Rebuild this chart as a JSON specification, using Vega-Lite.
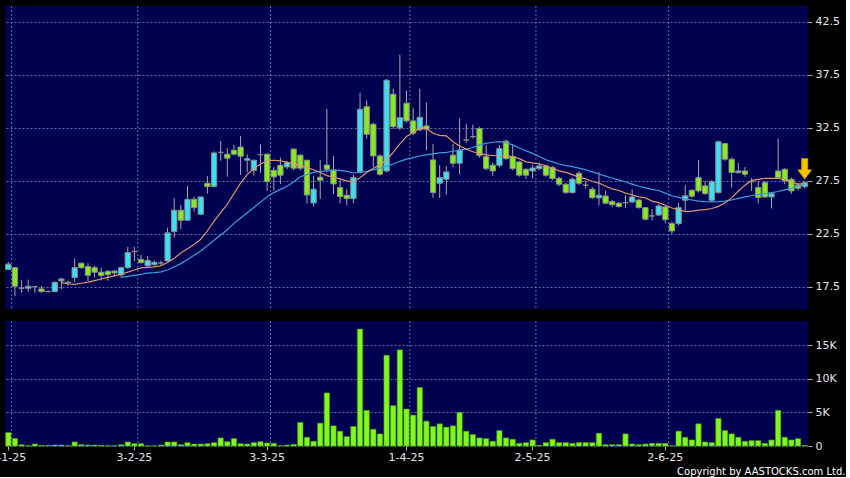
{
  "$schema": "https://vega.github.io/schema/vega-lite/v6.json",
  "background": "#000000",
  "padding": {"left": -11, "top": 5, "right": 0, "bottom": 0},
  "config": {
    "view": {"fill": "#000050", "stroke": null},
    "font": "DejaVu Sans",
    "axis": {"labelFont": "DejaVu Sans", "labelFontSize": 11, "labelColor": "#e6e6e6", "gridColor": "#6a6aa0", "gridDash": [2, 2], "gridWidth": 1, "domain": false, "tickColor": "#b0b0b0", "tickSize": 4, "title": null},
    "concat": {"spacing": 10}
  },
  "title": {"text": "Copyright by AASTOCKS.com Ltd.", "orient": "bottom", "anchor": "end", "frame": "bounds", "fontSize": 10, "fontWeight": "normal", "color": "#ffffff", "font": "DejaVu Sans", "offset": 5, "dx": 6},
  "data": {"values": [
    {"d":"2025-01-02","o":19.15,"h":19.85,"l":19.1,"c":19.65,"v":2000},
    {"d":"2025-01-03","o":19.32,"h":19.4,"l":16.65,"c":17.57,"v":1100},
    {"d":"2025-01-06","o":17.38,"h":18.13,"l":16.96,"c":17.38,"v":200},
    {"d":"2025-01-07","o":17.38,"h":18.19,"l":17.06,"c":17.57,"v":50},
    {"d":"2025-01-08","o":17.53,"h":17.6,"l":16.96,"c":17.53,"v":300},
    {"d":"2025-01-09","o":17.31,"h":17.6,"l":16.96,"c":17.06,"v":100},
    {"d":"2025-01-10","o":17.06,"h":17.15,"l":17.0,"c":17.06,"v":100},
    {"d":"2025-01-13","o":17.06,"h":18.0,"l":17.0,"c":17.94,"v":150},
    {"d":"2025-01-14","o":18.07,"h":18.38,"l":17.28,"c":18.25,"v":150,"m1":17.9},
    {"d":"2025-01-15","o":17.94,"h":18.07,"l":17.6,"c":17.94,"v":50,"m1":17.8},
    {"d":"2025-01-16","o":18.38,"h":20.2,"l":17.97,"c":19.32,"v":600,"m1":17.75},
    {"d":"2025-01-17","o":19.74,"h":19.8,"l":19.2,"c":19.32,"v":200,"m1":17.85},
    {"d":"2025-01-20","o":19.42,"h":19.74,"l":18.07,"c":18.6,"v":150,"m1":17.95},
    {"d":"2025-01-21","o":19.32,"h":19.5,"l":18.4,"c":18.89,"v":150,"m1":18.1},
    {"d":"2025-01-22","o":18.89,"h":19.3,"l":18.1,"c":18.57,"v":100,"m1":18.25},
    {"d":"2025-01-23","o":18.98,"h":19.1,"l":18.1,"c":18.66,"v":50,"m1":18.4},
    {"d":"2025-01-24","o":19.0,"h":19.1,"l":18.5,"c":18.82,"v":50,"m1":18.55},
    {"d":"2025-01-27","o":18.63,"h":19.4,"l":18.4,"c":19.32,"v":200,"m1":18.7,"m2":18.4},
    {"d":"2025-01-28","o":19.32,"h":21.27,"l":19.2,"c":20.74,"v":600,"m1":18.9,"m2":18.5},
    {"d":"2025-02-03","o":20.83,"h":21.27,"l":19.95,"c":20.83,"v":350,"m1":19.1,"m2":18.6},
    {"d":"2025-02-04","o":20.1,"h":20.5,"l":19.7,"c":19.79,"v":350,"m1":19.3,"m2":18.7},
    {"d":"2025-02-05","o":19.5,"h":20.42,"l":19.4,"c":20.0,"v":30,"m1":19.35,"m2":18.8},
    {"d":"2025-02-06","o":19.6,"h":20.0,"l":19.5,"c":19.83,"v":30,"m1":19.4,"m2":18.85},
    {"d":"2025-02-07","o":19.76,"h":20.0,"l":19.5,"c":19.76,"v":150,"m1":19.5,"m2":18.92},
    {"d":"2025-02-10","o":19.95,"h":23.1,"l":19.9,"c":22.6,"v":600,"m1":19.8,"m2":19.1},
    {"d":"2025-02-11","o":22.72,"h":25.87,"l":22.15,"c":24.74,"v":600,"m1":20.2,"m2":19.4},
    {"d":"2025-02-12","o":24.74,"h":25.24,"l":22.94,"c":23.79,"v":200,"m1":20.7,"m2":19.7},
    {"d":"2025-02-13","o":23.79,"h":27.03,"l":23.7,"c":25.77,"v":500,"m1":21.1,"m2":20.1},
    {"d":"2025-02-14","o":25.77,"h":26.0,"l":24.6,"c":24.98,"v":300,"m1":21.5,"m2":20.5},
    {"d":"2025-02-17","o":24.36,"h":26.0,"l":24.3,"c":25.99,"v":300,"m1":22.0,"m2":20.9},
    {"d":"2025-02-18","o":27.28,"h":27.97,"l":26.3,"c":26.96,"v":350,"m1":22.8,"m2":21.4},
    {"d":"2025-02-19","o":26.99,"h":30.3,"l":26.9,"c":30.14,"v":500,"m1":23.7,"m2":21.9},
    {"d":"2025-02-20","o":30.2,"h":31.27,"l":29.4,"c":30.2,"v":1200,"m1":24.5,"m2":22.4},
    {"d":"2025-02-21","o":30.02,"h":30.6,"l":27.9,"c":29.64,"v":650,"m1":25.3,"m2":22.9},
    {"d":"2025-02-24","o":30.4,"h":30.9,"l":29.9,"c":30.02,"v":1100,"m1":26.3,"m2":23.5},
    {"d":"2025-02-25","o":30.7,"h":31.75,"l":28.07,"c":29.83,"v":350,"m1":27.3,"m2":24.0},
    {"d":"2025-02-26","o":29.45,"h":30.0,"l":28.3,"c":29.6,"v":300,"m1":28.1,"m2":24.5},
    {"d":"2025-02-27","o":28.5,"h":29.5,"l":28.0,"c":29.45,"v":500,"m1":28.7,"m2":25.0},
    {"d":"2025-02-28","o":29.98,"h":30.94,"l":28.26,"c":29.98,"v":650,"m1":29.1,"m2":25.5},
    {"d":"2025-03-03","o":30.02,"h":30.1,"l":26.56,"c":27.43,"v":450,"m1":29.4,"m2":26.0},
    {"d":"2025-03-04","o":28.5,"h":28.8,"l":26.6,"c":27.88,"v":400,"m1":29.45,"m2":26.4},
    {"d":"2025-03-05","o":28.98,"h":29.7,"l":27.2,"c":28.04,"v":30,"m1":29.4,"m2":26.7},
    {"d":"2025-03-06","o":28.82,"h":29.4,"l":28.6,"c":29.23,"v":150,"m1":29.25,"m2":27.0},
    {"d":"2025-03-07","o":30.5,"h":30.6,"l":28.5,"c":28.7,"v":250,"m1":29.1,"m2":27.4},
    {"d":"2025-03-10","o":29.93,"h":30.0,"l":28.5,"c":28.7,"v":3500,"m1":28.95,"m2":27.9},
    {"d":"2025-03-11","o":29.45,"h":29.5,"l":25.36,"c":26.18,"v":1300,"m1":28.75,"m2":28.1},
    {"d":"2025-03-12","o":25.42,"h":28.0,"l":25.1,"c":26.72,"v":700,"m1":28.55,"m2":28.3},
    {"d":"2025-03-13","o":27.85,"h":29.5,"l":25.8,"c":27.57,"v":3400,"m1":28.3,"m2":28.4},
    {"d":"2025-03-14","o":29.0,"h":34.3,"l":28.3,"c":28.6,"v":7900,"m1":28.0,"m2":28.45},
    {"d":"2025-03-17","o":28.54,"h":29.85,"l":26.25,"c":27.22,"v":3000,"m1":27.85,"m2":28.5},
    {"d":"2025-03-18","o":26.87,"h":27.6,"l":25.4,"c":26.02,"v":2200,"m1":27.7,"m2":28.5},
    {"d":"2025-03-19","o":26.15,"h":26.7,"l":25.2,"c":25.83,"v":1400,"m1":27.5,"m2":28.4},
    {"d":"2025-03-20","o":25.83,"h":28.1,"l":25.4,"c":27.81,"v":2900,"m1":27.4,"m2":28.25},
    {"d":"2025-03-21","o":28.35,"h":35.83,"l":28.2,"c":34.26,"v":17400,"m1":27.8,"m2":28.3},
    {"d":"2025-03-24","o":34.5,"h":35.1,"l":31.5,"c":31.9,"v":5300,"m1":28.3,"m2":28.4},
    {"d":"2025-03-25","o":32.85,"h":33.0,"l":28.8,"c":29.86,"v":2500,"m1":28.7,"m2":28.55},
    {"d":"2025-03-26","o":29.86,"h":30.0,"l":28.0,"c":28.13,"v":1800,"m1":29.0,"m2":28.7},
    {"d":"2025-03-27","o":28.44,"h":37.1,"l":28.3,"c":37.0,"v":13500,"m1":29.5,"m2":28.9},
    {"d":"2025-03-28","o":35.68,"h":36.2,"l":32.4,"c":32.63,"v":6000,"m1":30.2,"m2":29.1},
    {"d":"2025-03-31","o":32.5,"h":39.4,"l":32.3,"c":33.47,"v":14300,"m1":31.0,"m2":29.35},
    {"d":"2025-04-01","o":34.83,"h":36.0,"l":33.0,"c":33.16,"v":5500,"m1":31.7,"m2":29.55},
    {"d":"2025-04-02","o":33.16,"h":34.4,"l":31.8,"c":32.0,"v":4600,"m1":32.1,"m2":29.7},
    {"d":"2025-04-03","o":32.31,"h":36.2,"l":32.2,"c":33.5,"v":8700,"m1":32.5,"m2":29.85},
    {"d":"2025-04-07","o":32.69,"h":34.9,"l":30.4,"c":32.38,"v":3700,"m1":32.45,"m2":29.95},
    {"d":"2025-04-08","o":29.48,"h":31.0,"l":25.9,"c":26.4,"v":2900,"m1":32.0,"m2":30.05},
    {"d":"2025-04-09","o":27.28,"h":29.0,"l":25.9,"c":27.81,"v":3300,"m1":31.8,"m2":30.15},
    {"d":"2025-04-10","o":27.66,"h":28.9,"l":26.2,"c":28.35,"v":2800,"m1":31.75,"m2":30.2},
    {"d":"2025-04-11","o":29.93,"h":31.0,"l":28.8,"c":29.17,"v":3000,"m1":31.2,"m2":30.3},
    {"d":"2025-04-14","o":29.17,"h":33.4,"l":28.1,"c":30.42,"v":5000,"m1":30.8,"m2":30.4},
    {"d":"2025-04-15","o":31.37,"h":32.9,"l":31.1,"c":31.37,"v":2200,"m1":30.5,"m2":30.5},
    {"d":"2025-04-16","o":31.68,"h":32.8,"l":31.5,"c":31.68,"v":1700,"m1":30.25,"m2":30.65},
    {"d":"2025-04-17","o":32.44,"h":32.6,"l":29.7,"c":29.9,"v":1200,"m1":30.1,"m2":30.9},
    {"d":"2025-04-22","o":29.79,"h":30.9,"l":28.5,"c":28.66,"v":1100,"m1":29.95,"m2":31.05},
    {"d":"2025-04-23","o":28.98,"h":29.23,"l":27.98,"c":28.44,"v":700,"m1":29.9,"m2":31.15},
    {"d":"2025-04-24","o":28.98,"h":30.86,"l":28.8,"c":30.55,"v":2300,"m1":29.85,"m2":31.2},
    {"d":"2025-04-25","o":31.25,"h":31.4,"l":29.5,"c":29.6,"v":1200,"m1":29.85,"m2":31.1},
    {"d":"2025-04-28","o":29.79,"h":30.86,"l":28.5,"c":28.66,"v":1000,"m1":29.8,"m2":30.9},
    {"d":"2025-04-29","o":29.29,"h":29.4,"l":27.9,"c":28.04,"v":400,"m1":29.6,"m2":30.6},
    {"d":"2025-04-30","o":28.6,"h":28.7,"l":27.7,"c":28.04,"v":500,"m1":29.3,"m2":30.35},
    {"d":"2025-05-02","o":28.44,"h":28.98,"l":27.73,"c":28.72,"v":900,"m1":29.2,"m2":30.1},
    {"d":"2025-05-06","o":28.66,"h":29.23,"l":28.5,"c":28.91,"v":100,"m1":29.1,"m2":29.8},
    {"d":"2025-05-07","o":28.91,"h":29.0,"l":27.9,"c":28.04,"v":500,"m1":28.95,"m2":29.5},
    {"d":"2025-05-08","o":28.76,"h":28.9,"l":27.6,"c":27.72,"v":1000,"m1":28.7,"m2":29.3},
    {"d":"2025-05-09","o":27.75,"h":27.9,"l":27.0,"c":27.19,"v":500,"m1":28.45,"m2":29.1},
    {"d":"2025-05-12","o":27.19,"h":27.3,"l":26.3,"c":26.4,"v":500,"m1":28.3,"m2":28.95},
    {"d":"2025-05-13","o":26.4,"h":27.8,"l":26.3,"c":27.66,"v":400,"m1":28.1,"m2":28.85},
    {"d":"2025-05-14","o":28.22,"h":28.4,"l":27.1,"c":27.28,"v":500,"m1":27.85,"m2":28.7},
    {"d":"2025-05-15","o":27.1,"h":27.5,"l":26.78,"c":27.1,"v":500,"m1":27.7,"m2":28.55},
    {"d":"2025-05-16","o":26.72,"h":26.9,"l":25.8,"c":25.93,"v":500,"m1":27.45,"m2":28.35},
    {"d":"2025-05-19","o":25.9,"h":28.35,"l":25.2,"c":26.15,"v":1900,"m1":27.3,"m2":28.15},
    {"d":"2025-05-20","o":26.08,"h":26.6,"l":25.3,"c":25.4,"v":200,"m1":27.0,"m2":27.95},
    {"d":"2025-05-21","o":25.55,"h":25.7,"l":25.1,"c":25.26,"v":200,"m1":26.75,"m2":27.75},
    {"d":"2025-05-22","o":25.4,"h":25.5,"l":25.0,"c":25.08,"v":200,"m1":26.6,"m2":27.6},
    {"d":"2025-05-23","o":25.45,"h":26.15,"l":24.95,"c":25.45,"v":1800,"m1":26.35,"m2":27.4},
    {"d":"2025-05-26","o":25.52,"h":26.7,"l":25.4,"c":25.99,"v":300,"m1":26.2,"m2":27.2},
    {"d":"2025-05-27","o":25.7,"h":25.8,"l":24.9,"c":24.98,"v":200,"m1":26.0,"m2":27.0},
    {"d":"2025-05-28","o":24.98,"h":25.0,"l":23.8,"c":23.89,"v":300,"m1":25.9,"m2":26.85},
    {"d":"2025-05-29","o":24.2,"h":24.83,"l":23.79,"c":24.2,"v":400,"m1":25.6,"m2":26.7},
    {"d":"2025-05-30","o":24.29,"h":25.3,"l":24.2,"c":25.14,"v":400,"m1":25.45,"m2":26.6},
    {"d":"2025-06-02","o":25.05,"h":25.1,"l":23.5,"c":23.85,"v":400,"m1":25.2,"m2":26.35},
    {"d":"2025-06-03","o":23.47,"h":23.7,"l":22.5,"c":22.78,"v":50,"m1":24.95,"m2":26.1},
    {"d":"2025-06-04","o":23.47,"h":25.45,"l":23.3,"c":24.98,"v":2200,"m1":24.8,"m2":25.95},
    {"d":"2025-06-05","o":25.68,"h":27.1,"l":24.7,"c":26.1,"v":1300,"m1":24.6,"m2":25.8},
    {"d":"2025-06-06","o":26.62,"h":26.7,"l":25.9,"c":26.06,"v":900,"m1":24.65,"m2":25.7},
    {"d":"2025-06-09","o":27.81,"h":29.45,"l":26.4,"c":26.56,"v":3300,"m1":24.75,"m2":25.6},
    {"d":"2025-06-10","o":27.03,"h":27.5,"l":26.2,"c":26.3,"v":600,"m1":24.8,"m2":25.55},
    {"d":"2025-06-11","o":25.68,"h":27.6,"l":25.5,"c":27.43,"v":500,"m1":24.9,"m2":25.52},
    {"d":"2025-06-12","o":26.4,"h":31.3,"l":26.3,"c":31.2,"v":4100,"m1":25.1,"m2":25.55},
    {"d":"2025-06-13","o":31.02,"h":31.1,"l":29.4,"c":29.55,"v":2300,"m1":25.45,"m2":25.6},
    {"d":"2025-06-16","o":29.55,"h":29.7,"l":26.9,"c":28.3,"v":1800,"m1":25.9,"m2":25.7},
    {"d":"2025-06-17","o":28.28,"h":29.2,"l":28.2,"c":28.44,"v":1300,"m1":26.55,"m2":25.85},
    {"d":"2025-06-18","o":28.44,"h":28.8,"l":27.9,"c":28.13,"v":700,"m1":27.1,"m2":26.0},
    {"d":"2025-06-19","o":27.43,"h":27.75,"l":26.56,"c":27.43,"v":800,"m1":27.55,"m2":26.1},
    {"d":"2025-06-20","o":26.87,"h":27.5,"l":25.36,"c":25.93,"v":800,"m1":27.65,"m2":26.2},
    {"d":"2025-06-23","o":27.34,"h":27.5,"l":25.9,"c":25.99,"v":400,"m1":27.75,"m2":26.3},
    {"d":"2025-06-24","o":25.99,"h":26.4,"l":24.9,"c":26.3,"v":900,"m1":27.75,"m2":26.4},
    {"d":"2025-06-25","o":28.44,"h":31.5,"l":27.7,"c":27.81,"v":5300,"m1":27.75,"m2":26.5},
    {"d":"2025-06-26","o":28.6,"h":28.7,"l":27.2,"c":27.5,"v":1300,"m1":27.6,"m2":26.65},
    {"d":"2025-06-27","o":27.66,"h":27.8,"l":26.3,"c":26.56,"v":900,"m1":27.4,"m2":26.8},
    {"d":"2025-06-30","o":27.12,"h":27.3,"l":26.6,"c":26.81,"v":1100,"m1":27.2,"m2":27.0},
    {"d":"2025-07-02","o":26.96,"h":27.5,"l":26.8,"c":27.34,"v":100,"m1":27.25,"m2":27.2}
  ]},
  "vconcat": [
    {
      "width": 803,
      "height": 303,
      "encoding": {
        "x": {"field": "d", "type": "ordinal", "scale": {"paddingInner": 0.2, "paddingOuter": 0.1}, "axis": null}
      },
      "layer": [
        {
          "transform": [{"filter": {"field": "d", "oneOf": ["2025-01-02", "2025-02-03", "2025-03-03", "2025-04-01", "2025-05-02", "2025-06-02"]}}],
          "mark": {"type": "rule", "color": "#6a6aa0", "strokeDash": [2, 2], "strokeWidth": 1},
          "encoding": {"x": {"field": "d", "type": "ordinal", "bandPosition": 1.125}}
        },
        {
          "mark": {"type": "rule", "color": "#a8a8a8", "strokeWidth": 1},
          "encoding": {
            "y": {"field": "l", "type": "quantitative", "scale": {"domain": [15.42, 44.0], "nice": false, "zero": false},
                  "axis": {"orient": "right", "values": [17.5, 20, 22.5, 25, 27.5, 30, 32.5, 35, 37.5, 40, 42.5], "format": ".1~f", "grid": true, "ticks": true, "labelPadding": 3, "title": null}},
            "y2": {"field": "h"}
          }
        },
        {
          "mark": {"type": "bar", "stroke": "#8c8c8c", "strokeWidth": 1},
          "encoding": {
            "y": {"field": "o", "type": "quantitative", "title": null},
            "y2": {"field": "c"},
            "fill": {"condition": [{"test": "datum.c > datum.o", "value": "#3ae0f2"}, {"test": "datum.c < datum.o", "value": "#86ec1e"}], "value": "#b0b0b0"}
          }
        },
        {
          "mark": {"type": "line", "color": "#3a9de0", "strokeWidth": 1.2},
          "encoding": {"y": {"field": "m2", "type": "quantitative", "title": null}}
        },
        {
          "mark": {"type": "line", "color": "#e2946c", "strokeWidth": 1.2},
          "encoding": {"y": {"field": "m1", "type": "quantitative", "title": null}}
        },
        {
          "transform": [{"filter": "datum.d == '2025-07-02'"}],
          "mark": {"type": "point", "shape": "M-0.45,-3.2L0.45,-3.2L0.45,-1.6L1,-1.6L0,-0.25L-1,-1.6L-0.45,-1.6Z", "size": 196, "filled": true, "fill": "#f5c400", "stroke": "#c89200", "strokeWidth": 0.6, "opacity": 1},
          "encoding": {"y": {"field": "h", "type": "quantitative", "title": null}}
        }
      ]
    },
    {
      "width": 803,
      "height": 125,
      "encoding": {
        "x": {"field": "d", "type": "ordinal", "scale": {"paddingInner": 0.2, "paddingOuter": 0.1},
              "axis": {"values": ["2025-01-02", "2025-02-03", "2025-03-03", "2025-04-01", "2025-05-02", "2025-06-02"], "labelExpr": "toNumber(substring(datum.value,8,10)) + '-' + toNumber(substring(datum.value,5,7)) + '-' + substring(datum.value,2,4)", "labelAngle": 0, "grid": false, "ticks": true, "labelPadding": 1, "title": null}}
      },
      "layer": [
        {
          "transform": [{"filter": {"field": "d", "oneOf": ["2025-01-02", "2025-02-03", "2025-03-03", "2025-04-01", "2025-05-02", "2025-06-02"]}}],
          "mark": {"type": "rule", "color": "#6a6aa0", "strokeDash": [2, 2], "strokeWidth": 1},
          "encoding": {"x": {"field": "d", "type": "ordinal", "bandPosition": 1.125}}
        },
        {
          "mark": {"type": "bar", "fill": "#80f81e", "stroke": "#4f9a18", "strokeWidth": 0.6},
          "encoding": {
            "y": {"field": "v", "type": "quantitative", "scale": {"domain": [0, 18600], "nice": false},
                  "axis": {"orient": "right", "values": [0, 5000, 10000, 15000], "labelExpr": "datum.value == 0 ? '0' : (datum.value / 1000) + 'K'", "grid": true, "ticks": true, "labelPadding": 3, "title": null}}
          }
        }
      ]
    }
  ]
}
